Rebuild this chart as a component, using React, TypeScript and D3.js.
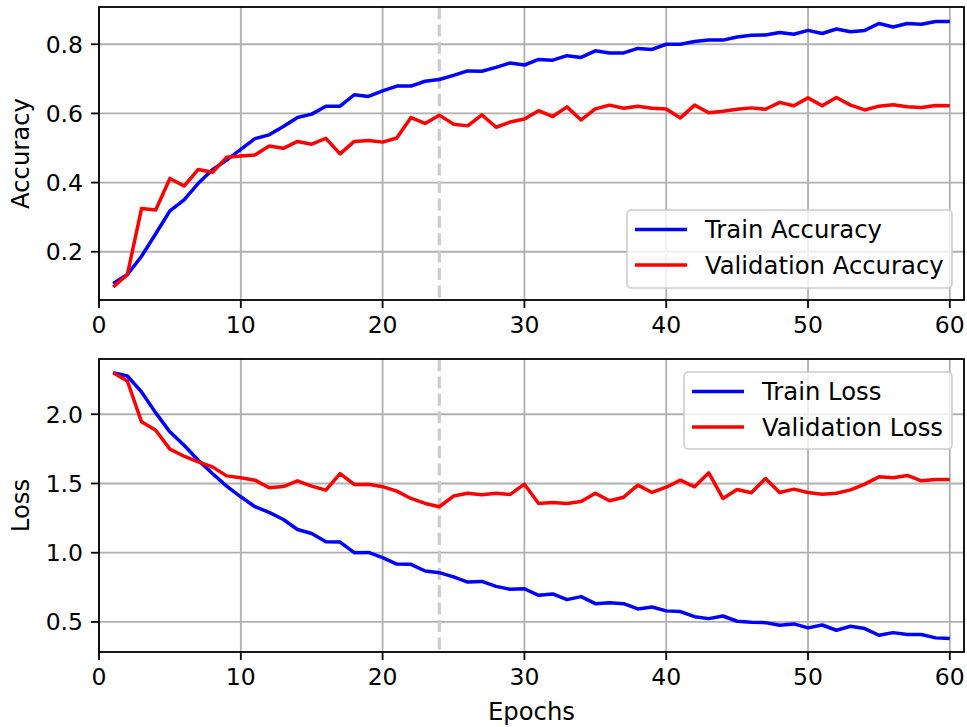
import React from "react";
import * as d3 from "d3";

// values, one per epoch (1..60)
const trainAcc = [
  0.108, 0.134, 0.187, 0.252, 0.318, 0.35, 0.398, 0.437, 0.465, 0.496,
  0.527, 0.538, 0.562, 0.588, 0.598, 0.621, 0.621, 0.654, 0.649, 0.665,
  0.679, 0.679, 0.693, 0.698, 0.71, 0.723, 0.722, 0.733, 0.746, 0.74,
  0.756, 0.754, 0.767, 0.762, 0.781, 0.775, 0.775, 0.788, 0.785, 0.8,
  0.8, 0.808, 0.812, 0.812, 0.821, 0.826, 0.827, 0.834, 0.829, 0.84,
  0.831, 0.844, 0.836, 0.84, 0.86, 0.85, 0.86, 0.858, 0.866, 0.866,
];
const valAcc = [
  0.098, 0.134, 0.325, 0.321, 0.412, 0.39, 0.438, 0.43, 0.473, 0.477,
  0.48, 0.506, 0.499, 0.519, 0.511, 0.528, 0.483, 0.519, 0.522, 0.517,
  0.529, 0.588, 0.571, 0.595, 0.569, 0.564, 0.596, 0.56, 0.575, 0.584,
  0.608, 0.591, 0.619, 0.581, 0.613, 0.624, 0.615, 0.621, 0.615, 0.613,
  0.587, 0.624, 0.602, 0.606, 0.612, 0.616, 0.612, 0.632, 0.622, 0.645,
  0.622, 0.646, 0.624, 0.61, 0.621, 0.625, 0.619, 0.617, 0.623, 0.622,
];
const trainLoss = [
  2.3, 2.276, 2.161, 2.01, 1.873, 1.776, 1.668, 1.572, 1.481, 1.404,
  1.332, 1.291, 1.24, 1.168, 1.139, 1.079, 1.077, 1.0, 1.002, 0.964,
  0.918, 0.916, 0.868, 0.856, 0.825, 0.788, 0.793, 0.757, 0.736, 0.74,
  0.692, 0.702, 0.661, 0.683, 0.632, 0.639, 0.632, 0.594, 0.608, 0.58,
  0.575, 0.538, 0.524, 0.543, 0.505, 0.498, 0.495, 0.476, 0.486, 0.457,
  0.478, 0.44, 0.469, 0.452, 0.404, 0.423, 0.409, 0.409, 0.385, 0.38,
];
const valLoss = [
  2.3, 2.24, 1.945, 1.885, 1.748, 1.697, 1.656, 1.62, 1.555, 1.541,
  1.524, 1.469, 1.478, 1.519, 1.481, 1.452, 1.572, 1.493, 1.495, 1.477,
  1.445, 1.392, 1.356, 1.332, 1.409, 1.43, 1.418, 1.43, 1.421, 1.495,
  1.356, 1.363, 1.356, 1.37, 1.43, 1.375, 1.401, 1.488, 1.435, 1.473,
  1.524, 1.476, 1.577, 1.392, 1.457, 1.433, 1.536, 1.435, 1.459, 1.435,
  1.423, 1.43, 1.454, 1.495, 1.548, 1.541, 1.558, 1.519, 1.529, 1.529,
];
const epochs = trainAcc.map((_, i) => i + 1);

const xTicks = [0, 10, 20, 30, 40, 50, 60];
const accTicks = [0.2, 0.4, 0.6, 0.8];
const lossTicks = [0.5, 1.0, 1.5, 2.0];
const markerEpoch = 24;

const W = 967;
const H = 727;
const LEFT = 99;
const RIGHT = 964;
const FS = 23.5; // tick labels
const LFS = 24.3; // axis labels, legend
const FONT = "DejaVu Sans, sans-serif";
const fmt = d3.format(".1f");

interface Series {
  label: string;
  values: number[];
  color: string;
}

interface PanelProps {
  top: number;
  bottom: number;
  yDomain: [number, number];
  yTicks: number[];
  yLabel: string;
  series: Series[];
  legend: { x: number; y: number; w: number; h: number };
}

const Panel = ({ top, bottom, yDomain, yTicks, yLabel, series, legend }: PanelProps) => {
  const x = d3.scaleLinear().domain([0, 61]).range([LEFT, RIGHT]);
  const y = d3.scaleLinear().domain(yDomain).range([bottom, top]);
  const line = d3
    .line<number>()
    .x((_, i) => x(epochs[i]))
    .y((d) => y(d));

  return (
    <g>
      {/* grid */}
      {xTicks.map((t) => (
        <line key={"gx" + t} x1={x(t)} x2={x(t)} y1={top} y2={bottom} stroke="#b0b0b0" strokeWidth={1.8} />
      ))}
      {yTicks.map((t) => (
        <line key={"gy" + t} x1={LEFT} x2={RIGHT} y1={y(t)} y2={y(t)} stroke="#b0b0b0" strokeWidth={1.8} />
      ))}
      {/* epoch marker */}
      <line
        x1={x(markerEpoch)}
        x2={x(markerEpoch)}
        y1={top}
        y2={bottom}
        stroke="#cccccc"
        strokeWidth={3.2}
        strokeDasharray="12,5.4"
      />
      {series.map((s) => (
        <path key={s.label} d={line(s.values) ?? ""} fill="none" stroke={s.color} strokeWidth={3.5} strokeLinejoin="round" />
      ))}
      {/* spines */}
      <rect x={LEFT} y={top} width={RIGHT - LEFT} height={bottom - top} fill="none" stroke="#000" strokeWidth={1.8} />
      {/* x ticks */}
      {xTicks.map((t) => (
        <g key={"tx" + t}>
          <line x1={x(t)} x2={x(t)} y1={bottom} y2={bottom + 8} stroke="#000" strokeWidth={1.8} />
          <text x={x(t)} y={bottom + 16 + FS * 0.73} textAnchor="middle" fontSize={FS} fontFamily={FONT} fill="#000">
            {t}
          </text>
        </g>
      ))}
      {/* y ticks */}
      {yTicks.map((t) => (
        <g key={"ty" + t}>
          <line x1={LEFT - 8} x2={LEFT} y1={y(t)} y2={y(t)} stroke="#000" strokeWidth={1.8} />
          <text x={LEFT - 16} y={y(t) + FS * 0.36} textAnchor="end" fontSize={FS} fontFamily={FONT} fill="#000">
            {fmt(t)}
          </text>
        </g>
      ))}
      <text
        transform={`translate(29,${(top + bottom) / 2}) rotate(-90)`}
        textAnchor="middle"
        fontSize={LFS}
        fontFamily={FONT}
        fill="#000"
      >
        {yLabel}
      </text>
      {/* legend */}
      <rect
        x={legend.x}
        y={legend.y}
        width={legend.w}
        height={legend.h}
        rx={4}
        fill="#fff"
        fillOpacity={0.8}
        stroke="#cccccc"
        strokeWidth={1.5}
      />
      {series.map((s, i) => {
        const ry = legend.y + 19.5 + i * 35.5;
        return (
          <g key={"lg" + s.label}>
            <line x1={legend.x + 8} x2={legend.x + 60} y1={ry} y2={ry} stroke={s.color} strokeWidth={3.5} />
            <text x={legend.x + 78} y={ry + LFS * 0.36} fontSize={LFS} fontFamily={FONT} fill="#000">
              {s.label}
            </text>
          </g>
        );
      })}
    </g>
  );
};

export default function App() {
  return (
    <svg width={W} height={H} style={{ position: "absolute", left: 0, top: 0, background: "#fff" }}>
      <Panel
        top={7}
        bottom={300}
        yDomain={[0.0605, 0.9077]}
        yTicks={accTicks}
        yLabel="Accuracy"
        series={[
          { label: "Train Accuracy", values: trainAcc, color: "#0000ff" },
          { label: "Validation Accuracy", values: valAcc, color: "#ff0000" },
        ]}
        legend={{ x: 627, y: 210, w: 325, h: 78 }}
      />
      <Panel
        top={359}
        bottom={652}
        yDomain={[0.283, 2.399]}
        yTicks={lossTicks}
        yLabel="Loss"
        series={[
          { label: "Train Loss", values: trainLoss, color: "#0000ff" },
          { label: "Validation Loss", values: valLoss, color: "#ff0000" },
        ]}
        legend={{ x: 684, y: 372, w: 268, h: 77 }}
      />
      <text x={(LEFT + RIGHT) / 2} y={720} textAnchor="middle" fontSize={LFS} fontFamily={FONT} fill="#000">
        Epochs
      </text>
    </svg>
  );
}
